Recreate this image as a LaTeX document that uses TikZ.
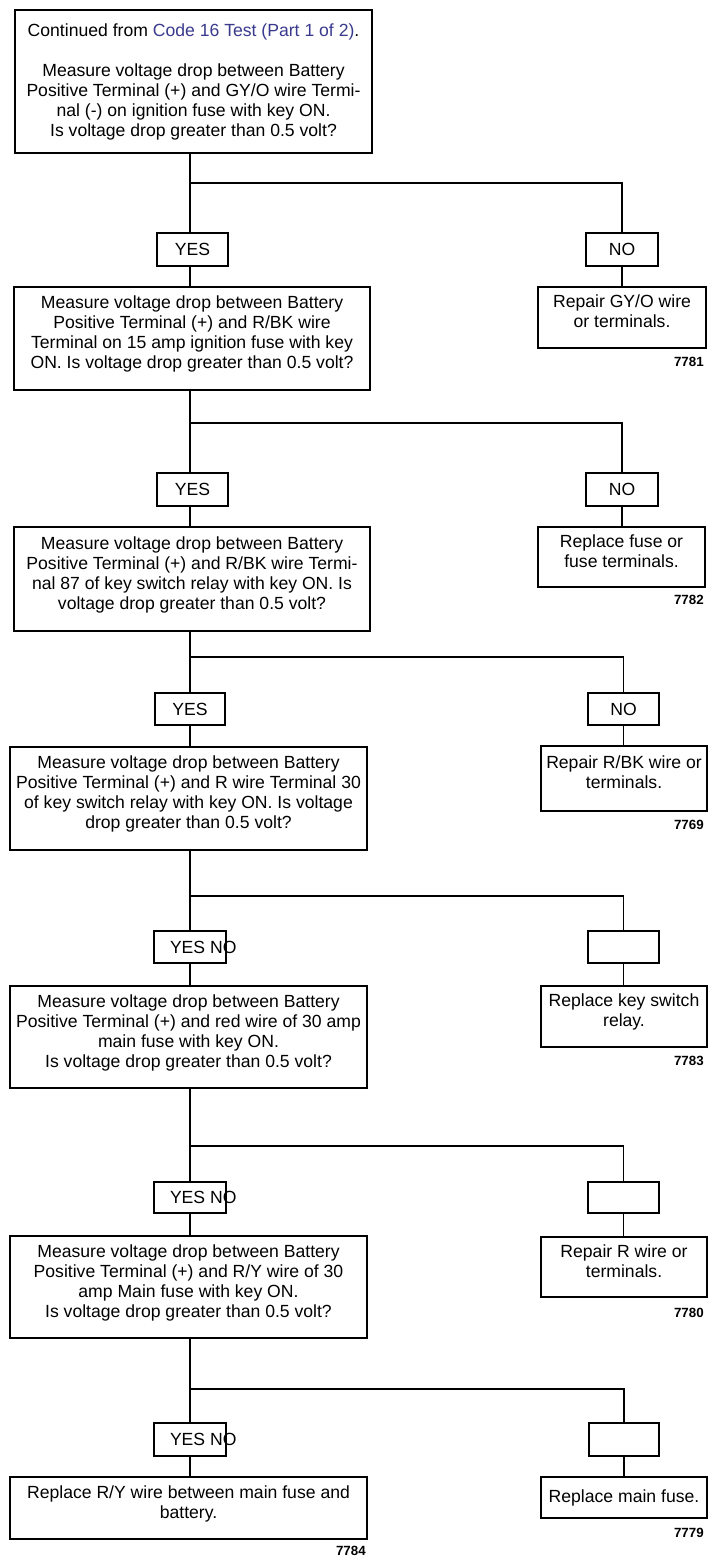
\documentclass[tikz,border=0pt]{standalone}
\usepackage{fontspec}
\setmainfont{Liberation Sans}
\definecolor{codeblue}{HTML}{3A3A8E}
\newcommand\lowpad{\rule[-9pt]{0pt}{0pt}}
\begin{document}
\begin{tikzpicture}[x=0.75pt,y=-0.75pt,
  sz/.style 2 args={minimum width=#1*0.75pt,minimum height=#2*0.75pt},
  box/.style={draw,line width=1.5pt,rectangle,inner sep=0pt,align=center,fill=white,
    font=\fontsize{13.2}{15}\selectfont},
  tag/.style={draw,line width=1.5pt,rectangle,inner sep=0pt,fill=white,
    font=\fontsize{13.2}{15}\selectfont},
  num/.style={anchor=east,inner sep=0pt,font=\fontsize{10}{12}\selectfont\bfseries},
  conn/.style={line width=1pt}]
\useasboundingbox (0,0) rectangle (712,1559);

% section 1
\node[box,sz={357}{143}] (box1) at (193.5,81.5)
 {Continued from {\color{codeblue}Code 16 Test (Part 1 of 2)}.\\[15pt]
  Measure voltage drop between Battery\\
  Positive Terminal (+) and GY/O wire Termi-\\
  nal (-) on ignition fuse with key ON.\\
  Is voltage drop greater than 0.5 volt?};
\coordinate (h1) at (190,183);
\node[tag,sz={71}{33}] (yes1) at (192.5,249.5) {YES};
\node[tag,sz={72}{33}] (no1) at (622,249.5) {NO};
\node[box,sz={356}{103}] (box2) at (192,338.5)
 {Measure voltage drop between Battery\\
  Positive Terminal (+) and R/BK wire\\
  Terminal on 15 amp ignition fuse with key\\
  ON. Is voltage drop greater than 0.5 volt?\lowpad};
\node[box,sz={168}{61}] (fix1) at (622,317.5)
 {Repair GY/O wire\\or terminals.\lowpad};
\node[num] (n1) at (704,362) {7781};

% section 2
\coordinate (h2) at (190,423);
\node[tag,sz={71}{33}] (yes2) at (192.5,489.5) {YES};
\node[tag,sz={72}{33}] (no2) at (622,489.5) {NO};
\node[box,sz={356}{104}] (box3) at (192,579)
 {Measure voltage drop between Battery\\
  Positive Terminal (+) and R/BK wire Termi-\\
  nal 87 of key switch relay with key ON. Is\\
  voltage drop greater than 0.5 volt?\lowpad};
\node[box,sz={167}{60}] (fix2) at (621.5,557)
 {Replace fuse or\\fuse terminals.\lowpad};
\node[num] (n2) at (704,600) {7782};

% section 3
\coordinate (h3) at (190,657);
\node[tag,sz={70}{32}] (yes3) at (190,709) {YES};
\node[tag,sz={71}{32}] (no3) at (623.5,709) {NO};
\node[box,sz={357}{103}] (box4) at (188.5,798.5)
 {Measure voltage drop between Battery\\
  Positive Terminal (+) and R wire Terminal 30\\
  of key switch relay with key ON. Is voltage\\
  drop greater than 0.5 volt?\lowpad};
\node[box,sz={166}{65}] (fix3) at (624,778.5)
 {Repair R/BK wire or\\terminals.\lowpad};
\node[num] (n3) at (704,825) {7769};

% section 4
\coordinate (h4) at (190,896);
\node[tag,sz={72}{32}] (yn4) at (190,947)
 {\makebox[0pt][l]{\hspace*{-15pt}YES NO}};
\node[tag,sz={71}{32}] (e4) at (623.5,947) {};
\node[box,sz={357}{102}] (box5) at (188.5,1037)
 {Measure voltage drop between Battery\\
  Positive Terminal (+) and red wire of 30 amp\\
  main fuse with key ON.\\
  Is voltage drop greater than 0.5 volt?\lowpad};
\node[box,sz={166}{61}] (fix4) at (624,1016.5)
 {Replace key switch\\relay.\lowpad};
\node[num] (n4) at (704,1061) {7783};

% section 5
\coordinate (h5) at (190,1146);
\node[tag,sz={72}{31}] (yn5) at (190,1197.5)
 {\makebox[0pt][l]{\hspace*{-15pt}YES NO}};
\node[tag,sz={71}{31}] (e5) at (623.5,1197.5) {};
\node[box,sz={357}{102}] (box6) at (188.5,1287)
 {Measure voltage drop between Battery\\
  Positive Terminal (+) and R/Y wire of 30\\
  amp Main fuse with key ON.\\
  Is voltage drop greater than 0.5 volt?\lowpad};
\node[box,sz={166}{60}] (fix5) at (624,1267)
 {Repair R wire or\\terminals.\lowpad};
\node[num] (n5) at (704,1313) {7780};

% section 6
\coordinate (h6) at (190,1389);
\node[tag,sz={72}{33}] (yn6) at (190,1439.5)
 {\makebox[0pt][l]{\hspace*{-15pt}YES NO}};
\node[tag,sz={70}{33}] (e6) at (624,1439.5) {};
\node[box,sz={357}{62}] (box7) at (188.5,1508)
 {Replace R/Y wire between main fuse and\\battery.\lowpad};
\node[box,sz={166}{41}] (fix6) at (624,1497.5)
 {Replace main fuse.};
\node[num] (n6) at (366,1551) {7784};
\node[num] (n7) at (704,1533) {7779};

% connectors
\draw[conn] (h1 |- box1.south) -- (h1 |- yes1.north);
\draw[conn] (h1 |- yes1.south) -- (h1 |- box2.north);
\draw[conn,line width=1.5pt] (h1) -- (h1 -| no1) -- (no1.north);
\draw[conn] (no1.south) -- (no1.south |- fix1.north);

\draw[conn] (h2 |- box2.south) -- (h2 |- yes2.north);
\draw[conn] (h2 |- yes2.south) -- (h2 |- box3.north);
\draw[conn,line width=1.3pt] (h2) -- (h2 -| no2) -- (no2.north);
\draw[conn] (no2.south) -- (no2.south |- fix2.north);

\draw[conn] (box3.south -| h3) -- (yes3.north);
\draw[conn] (yes3.south) -- (yes3.south |- box4.north);
\draw[conn] (h3) -- (h3 -| no3) -- (no3.north);
\draw[conn] (no3.south) -- (no3.south |- fix3.north);

\draw[conn] (box4.south -| h4) -- (yn4.north);
\draw[conn] (yn4.south) -- (yn4.south |- box5.north);
\draw[conn] (h4) -- (h4 -| e4) -- (e4.north);
\draw[conn] (e4.south) -- (e4.south |- fix4.north);

\draw[conn] (box5.south -| h5) -- (yn5.north);
\draw[conn] (yn5.south) -- (yn5.south |- box6.north);
\draw[conn] (h5) -- (h5 -| e5) -- (e5.north);
\draw[conn] (e5.south) -- (e5.south |- fix5.north);

\draw[conn] (box6.south -| h6) -- (yn6.north);
\draw[conn] (yn6.south) -- (yn6.south |- box7.north);
\draw[conn] (h6) -- (h6 -| e6) -- (e6.north);
\draw[conn] (e6.south) -- (e6.south |- fix6.north);
\end{tikzpicture}
\end{document}
